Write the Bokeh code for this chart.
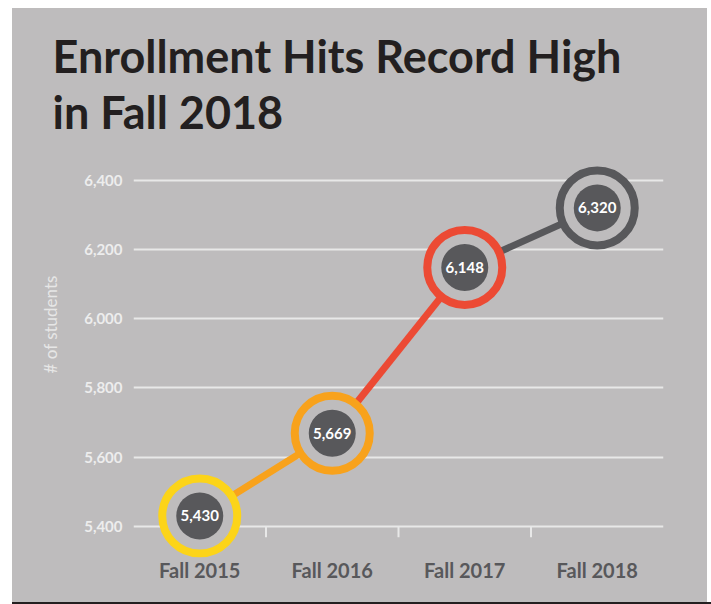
import math
from bokeh.plotting import figure
from bokeh.models import Range1d, FixedTicker, NumeralTickFormatter, Title, ColumnDataSource, Spacer
from bokeh.layouts import row, column
from bokeh.core.properties import value
from bokeh.embed import file_html
from bokeh.resources import INLINE

title_lines = ["Enrollment Hits Record High", "in Fall 2018"]
categories = ["Fall 2015", "Fall 2016", "Fall 2017", "Fall 2018"]
students = [5430, 5669, 6148, 6320]
ring_colors = ["#FCD419", "#F8A21C", "#EC4A34", "#58585B"]
y_ticks = [5400, 5600, 5800, 6000, 6200, 6400]

BG = "#BEBCBD"
GRID = "#E8E8E8"
DARK = "#58585B"
INK = "#231F20"

xs = [i + 0.5 for i in range(len(categories))]
bounds = [i + 1 for i in range(len(categories) - 1)]

p = figure(width=695, height=594, x_range=Range1d(0, len(categories)),
           y_range=Range1d(5310, 6480), output_backend="svg", toolbar_location=None,
           min_border_left=121, min_border_right=44, min_border_top=144, min_border_bottom=45)
p.background_fill_color = BG
p.border_fill_color = BG
p.outline_line_color = None
p.styles = {"background-color": BG}

# two-line title
ttl = Title(text="\n".join(title_lines), align="left", offset=-81, standoff=26,
            text_font="Lato", text_font_size="45px", text_font_style="bold",
            text_color=INK, text_line_height=1.05)
p.add_layout(ttl, "above")

# y axis
p.yaxis.ticker = FixedTicker(ticks=y_ticks)
p.yaxis.formatter = NumeralTickFormatter(format="0,0")
p.yaxis.axis_line_color = None
p.yaxis.major_tick_line_color = None
p.yaxis.minor_tick_line_color = None
p.yaxis.major_label_text_color = "#EDEDED"
p.yaxis.major_label_text_font = "Lato"
p.yaxis.major_label_text_font_size = "15px"
p.yaxis.major_label_text_font_style = "bold"
p.yaxis.major_label_standoff = 5
p.ygrid.grid_line_color = GRID
p.ygrid.grid_line_width = 2
p.xgrid.visible = False

ytitle = Title(text="# of students", align="left", offset=184, standoff=42,
               text_font="Lato", text_font_size="17px", text_font_style="normal",
               text_color="#E6E6E6")
p.add_layout(ytitle, "left")

# x axis
xa = p.xaxis[0]
xa.ticker = FixedTicker(ticks=xs)
xa.major_label_overrides = {x: c for x, c in zip(xs, categories)}
xa.axis_line_color = None
xa.major_tick_line_color = None
xa.minor_tick_line_color = None
xa.major_tick_out = 0
xa.major_label_standoff = 0
xa.major_label_text_color = DARK
xa.major_label_text_font = "Lato"
xa.major_label_text_font_size = "20px"
xa.major_label_text_font_style = "bold"

# small ticks at category boundaries hanging below the baseline
p.ray(x=bounds, y=[y_ticks[0]] * len(bounds), length=11, length_units="screen",
      angle=-math.pi / 2, line_color=GRID, line_width=2)

# connecting segments coloured by destination
seg = ColumnDataSource(dict(x0=xs[:-1], y0=students[:-1], x1=xs[1:], y1=students[1:],
                            c=ring_colors[1:]))
p.segment("x0", "y0", "x1", "y1", source=seg, line_color="c", line_width=7)

src = ColumnDataSource(dict(x=xs, y=students, c=ring_colors,
                            t=[f"{v:,}" for v in students]))
p.scatter("x", "y", source=src, size=75, fill_color=BG, line_color="c", line_width=8)
p.scatter("x", "y", source=src, size=47, fill_color=DARK, line_color=None)
p.text("x", "y", text="t", source=src, text_align="center", text_baseline="middle",
       text_color="white", text_font=value("Lato"), text_font_size="15px",
       text_font_style="bold")

bar = Spacer(width=699, height=2, styles={"background-color": INK})
layout = row(Spacer(width=12, height=604), column(Spacer(width=695, height=8), p, bar))

open("out.html", "w").write(file_html(layout, INLINE))
